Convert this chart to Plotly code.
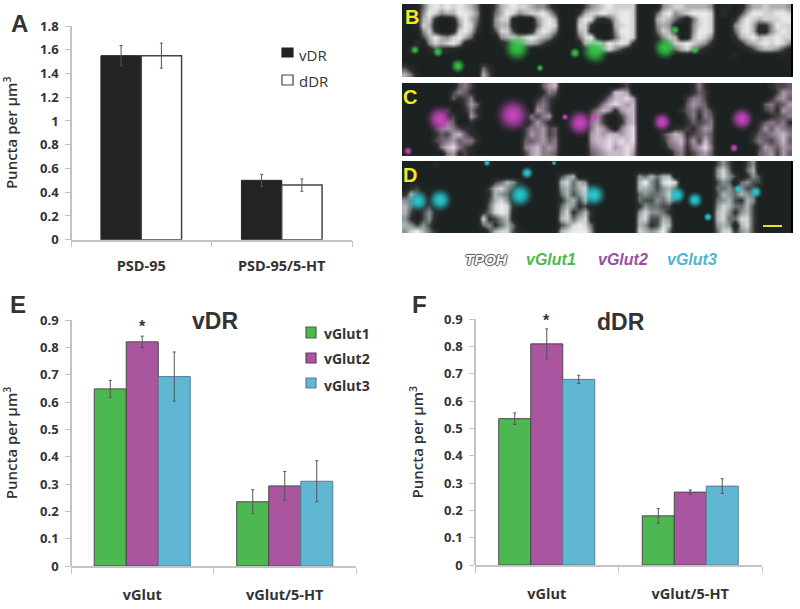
import plotly.graph_objects as go

W, H = 800, 609
FONT = "Open Sans"
INK = "#333333"

# Panel A
a_cats = ["PSD-95", "PSD-95/5-HT"]
a_vdr = [1.55, 0.50]
a_vdr_err = [0.085, 0.05]
a_ddr = [1.55, 0.46]
a_ddr_err = [0.105, 0.052]

# Panel E
e_cats = ["vGlut", "vGlut/5-HT"]
e_g1 = [0.648, 0.235]
e_g1_err = [0.031, 0.044]
e_g2 = [0.82, 0.293]
e_g2_err = [0.021, 0.053]
e_g3 = [0.693, 0.31]
e_g3_err = [0.09, 0.075]

# Panel F
f_g1 = [0.536, 0.18]
f_g1_err = [0.021, 0.027]
f_g2 = [0.81, 0.267]
f_g2_err = [0.055, 0.008]
f_g3 = [0.68, 0.289]
f_g3_err = [0.015, 0.027]

# Micrographs: intensity digits, five frames side by side
B1 = ["0014787878764","0015875668875","0016720016864","0017610005873","0005720017862","0003686578640","0020576786100","0210132110000","0000000000000","0000000000000","3100000000000","6410000000000"]
B2 = ["0036787765531","0046875677863","0057710005786","0056610004787","0037730016875","0005676787652","0001246665310","0000000000000","0000000000000","0000000000000","4200000000000","6300000000000"]
B3 = ["0000356787777","0002677877887","0006872136887","0007720006787","0006710005887","0004781004787","0001678687872","0000135675310","0000000000000","0000000000000","0000000000000","0000000000000"]
B4 = ["0000567766665","0004785678887","0006764204787","0005651005787","0004762005887","0002576006875","0001257787652","0000034675310","0000000000000","0000000000000","0000000000000","0000000000000"]
B5 = ["0110146676665","0200368877887","0002687677788","0005786225877","0004786115787","0002678677877","0000256787875","0000013566531","0001000000010","0000000000000","0000000000000","0000000000000"]
C1 = ["0000000004530","0000000035420","0000000042350","0000000000364","0000000300252","0000000030063","0000003540020","0000035653210","0000024367421","0000034564552","0000005785320","0000000562310"]
C2 = ["0000000000467","0000000000254","0000000002432","0000000004530","0000000006530","0000000053560","0000000036420","0000000355634","0000000365634","0000000445645","0000000567565","0000000367554"]
C3 = ["0000000000230","0000000027760","0000000257786","0000002578767","0000035762677","0000046300367","0000056300267","0000057630578","0000067677678","0000067787878","0000056786787","0000045677786"]
C4 = ["0000000002520","0000000002430","0000000035530","0000000046540","0000000245353","0000000035254","0000000024345","0000002232465","0000357623454","0000256736374","0000045625685","0000004523564"]
C5 = ["0000000002334","0000000000365","0000000002564","0000000045346","0000000034265","0000000002345","0000000245452","0000000364654","0000002445675","0000003543574","0000000365465","0000000456364"]
D1 = ["0000010000000","0000000000000","0000000000000","0000000000000","0230000000000","2632000000000","5412000000000","6402300000000","6303520000000","5203510000000","6535300000000","5786420000000"]
D2 = ["0000000000000","0000000000000","0000000000000","0034652000000","0367530000000","0265400000000","0367510000000","0478720000000","2478710000000","7235610000000","4524640000000","0367731000000"]
D3 = ["0000000000000","0000000000000","3560000000000","6746500000000","5646710000000","4635730000000","2563610000000","4652300000000","5724620000000","6746710000000","3578740000000","6788850000000"]
D4 = ["0000000000000","0000000000000","5464660000000","6853787000000","6653564000000","4544573000000","4335463000000","2544330000000","5755420000000","6733650000000","6523760000000","7656840000000"]
D5 = ["3530035000000","5740046000000","5753025300000","3540453300000","4453533000000","3654654000000","4563265000000","5764463000000","6752563000000","6744773000000","5650673000000","4772563000000"]

# Coloured puncta in the micrographs (reference position, diameter)
green_x = [415, 438, 458, 517, 540, 595, 575, 665, 695, 675]
green_y = [50, 52, 66, 48, 68, 51, 53, 48, 50, 30]
green_s = [10, 12, 16, 30, 8, 30, 12, 26, 10, 10]
magenta_x = [440, 513, 580, 565, 595, 662, 742, 734, 408]
magenta_y = [119, 115, 123, 117, 117, 122, 119, 148, 151]
magenta_s = [30, 38, 30, 8, 10, 22, 26, 10, 10]
cyan_x = [418, 440, 527, 520, 487, 554, 594, 677, 695, 708, 738, 756]
cyan_y = [201, 200, 173, 195, 163, 163, 195, 195, 200, 217, 189, 192]
cyan_s = [24, 26, 14, 28, 8, 6, 26, 20, 18, 10, 10, 14]


def px_x(v):
    return v / W


def px_y(v):
    return 1 - v / H


def to_z(frames):
    return [[int(c) for c in "".join(f[r] for f in frames)] for r in range(12)]


def gray_scale(mid, high):
    return [[0, "#1c2221"], [0.25, "#30302f"], [0.5, mid], [0.8, high], [1, "#ffffff"]]


fig = go.Figure()
LINE_DARK = "#4a4a4a"


def bar(x, y, err, color, name, ax, line_color, line_w, width, offset):
    fig.add_bar(
        x=x, y=y, name=name, xaxis="x" + ax, yaxis="y" + ax, width=width, offset=offset,
        marker=dict(color=color, line=dict(color=line_color, width=line_w)),
        error_y=dict(type="data", array=err, color="#555555", thickness=1, width=1.5),
        showlegend=False,
    )


WA, WE, WF = 0.287, 0.2246, 0.223
bar(a_cats, a_vdr, a_vdr_err, "#232323", "vDR", "", "#232323", 1, WA, -WA)
bar(a_cats, a_ddr, a_ddr_err, "#ffffff", "dDR", "", "#444444", 1.5, WA, 0)
GREEN, PURPLE, CYAN = "#4db850", "#a9559f", "#5fb7d3"
bar(e_cats, e_g1, e_g1_err, GREEN, "vGlut1", "2", LINE_DARK, 1, WE, -1.5 * WE)
bar(e_cats, e_g2, e_g2_err, PURPLE, "vGlut2", "2", LINE_DARK, 1, WE, -0.5 * WE)
bar(e_cats, e_g3, e_g3_err, CYAN, "vGlut3", "2", "#5a7f8f", 1, WE, 0.5 * WE)
bar(e_cats, f_g1, f_g1_err, GREEN, "vGlut1", "3", LINE_DARK, 1, WF, -1.5 * WF)
bar(e_cats, f_g2, f_g2_err, PURPLE, "vGlut2", "3", LINE_DARK, 1, WF, -0.5 * WF)
bar(e_cats, f_g3, f_g3_err, CYAN, "vGlut3", "3", "#5a7f8f", 1, WF, 0.5 * WF)

for frames, top, mid, high in [
    ((B1, B2, B3, B4, B5), 4, "#7d7f7e", "#d8d8d8"),
    ((C1, C2, C3, C4, C5), 83, "#786a78", "#d0c0d0"),
    ((D1, D2, D3, D4, D5), 161, "#788283", "#dcdede"),
]:
    fig.add_heatmap(
        z=to_z(frames), x0=405, dx=6, y0=top + 3, dy=6.05,
        zmin=0, zmax=9, zsmooth="best", colorscale=gray_scale(mid, high),
        showscale=False, hoverinfo="skip", xaxis="x4", yaxis="y4",
    )

for xs, ys, ss, rgb in [
    (green_x, green_y, green_s, "50,200,70"),
    (magenta_x, magenta_y, magenta_s, "205,70,195"),
    (cyan_x, cyan_y, cyan_s, "40,205,215"),
]:
    for k in (1, 0.8, 0.6):
        fig.add_scatter(
            x=xs, y=ys, mode="markers", xaxis="x4", yaxis="y4", showlegend=False,
            hoverinfo="skip",
            marker=dict(size=[s * k for s in ss], color=f"rgba({rgb},0)", line=dict(width=0),
                        gradient=dict(type="radial", color=f"rgba({rgb},1)")),
        )

fig.add_scatter(x=[763, 782], y=[226, 226], mode="lines", xaxis="x4", yaxis="y4",
                showlegend=False, hoverinfo="skip", line=dict(color="#f0e020", width=2))

AXIS_COL = "#c4c4c4"
TICKS = dict(family=FONT, size=13, color=INK, weight=700)
CAT_TICKS = dict(family=FONT, size=14.5, color=INK, weight=700)


def y_axis(top, bottom, rng, dtick, left, standoff):
    return dict(
        domain=[px_y(bottom), px_y(top)], range=rng, dtick=dtick, tick0=0,
        anchor="free", position=px_x(left), showgrid=False, zeroline=False,
        showline=True, linecolor=AXIS_COL, linewidth=1.5, ticks="outside",
        ticklen=5, tickcolor=AXIS_COL, tickfont=TICKS, automargin=False,
        ticklabelstandoff=4,
        title=dict(text="Puncta per µm<sup>3</sup>", standoff=standoff,
                   font=dict(family=FONT, size=15, color=INK, weight=600)),
    )


def x_axis(left, right, anchor, standoff):
    return dict(
        domain=[px_x(left), px_x(right)], type="category", range=[-0.5, 1.5],
        anchor=anchor, showgrid=False, zeroline=False, showline=True,
        linecolor=AXIS_COL, linewidth=1.5, ticks="outside", ticklen=6,
        tickcolor=AXIS_COL, tickson="boundaries", tickfont=CAT_TICKS,
        ticklabelstandoff=standoff, automargin=False,
    )


def note(x, y, text, size, color=INK, weight=700, family="Liberation Sans", style="normal",
         anchor="center", **kw):
    return dict(x=px_x(x), y=px_y(y), xref="paper", yref="paper", text=text, showarrow=False,
                xanchor=anchor, yanchor="middle",
                font=dict(family=family, size=size, color=color, weight=weight, style=style, **kw))


def swatch(x0, y0, x1, y1, color, line):
    return dict(type="rect", xref="paper", yref="paper",
                x0=px_x(x0), x1=px_x(x1), y0=px_y(y0), y1=px_y(y1),
                fillcolor=color, line=dict(color=line, width=1.2))


def edge(x, y0, y1):
    return dict(type="line", xref="paper", yref="paper", x0=px_x(x), x1=px_x(x),
                y0=px_y(y0), y1=px_y(y1), line=dict(color="#000000", width=2))


YEL = "#f3e72c"
annotations = [
    note(19, 24, "A", 24), note(18, 304, "E", 24), note(419, 304, "F", 24),
    note(412, 17, "B", 20, YEL), note(410, 97, "C", 20, YEL), note(410, 175, "D", 20, YEL),
    note(215, 321, "vDR", 23), note(621, 322, "dDR", 23),
    note(142, 326, "*", 16), note(546, 320, "*", 16),
    note(486, 259, "TPOH", 15, "#ffffff", 700, "Liberation Sans", "italic",
         shadow="1px 0 1px #555, -1px 0 1px #555, 0 1px 1px #555, 0 -1px 1px #555"),
    note(551, 259, "vGlut1", 16, "#4fb84f", 700, "Liberation Sans", "italic"),
    note(623, 259, "vGlut2", 16, "#9a4fa5", 700, "Liberation Sans", "italic"),
    note(692, 259, "vGlut3", 16, "#4fb4cf", 700, "Liberation Sans", "italic"),
    note(297, 55, "vDR", 15, INK, 400, FONT, anchor="left"),
    note(297, 81, "dDR", 15, INK, 400, FONT, anchor="left"),
    note(322, 333, "vGlut1", 14, INK, 700, FONT, anchor="left"),
    note(322, 359, "vGlut2", 14, INK, 700, FONT, anchor="left"),
    note(322, 385, "vGlut3", 14, INK, 700, FONT, anchor="left"),
]
shapes = [
    swatch(282, 48, 293, 57, "#232323", "#232323"),
    swatch(282, 75, 293, 85, "#ffffff", "#444444"),
    swatch(306, 327, 316, 338, GREEN, "#3d6b40"),
    swatch(306, 353, 316, 363, PURPLE, "#6a3a66"),
    swatch(306, 378, 316, 388, CYAN, "#5a7f8f"),
    edge(792, 4, 77), edge(792, 161, 233),
]

fig.update_layout(
    width=W, height=H, autosize=False, margin=dict(l=0, r=0, t=0, b=0, autoexpand=False),
    paper_bgcolor="white", plot_bgcolor="rgba(0,0,0,0)",
    barmode="overlay", showlegend=False,
    xaxis=x_axis(71, 352, "y", 12),
    yaxis=y_axis(26, 239.7, [0, 1.8], 0.2, 71, 18),
    xaxis2=x_axis(71, 356, "y2", 15),
    yaxis2=y_axis(320, 566, [0, 0.9], 0.1, 71, 18),
    xaxis3=x_axis(475, 762, "y3", 15),
    yaxis3=y_axis(319.3, 565, [0, 0.9], 0.1, 475, 16),
    xaxis4=dict(domain=[px_x(402), px_x(792)], range=[402, 792], visible=False, anchor="y4"),
    yaxis4=dict(domain=[px_y(233), px_y(4)], range=[233, 4], visible=False, anchor="x4"),
    annotations=annotations,
    shapes=shapes,
)

fig.write_html("out.html", post_script="document.body.style.margin='0';",
               config={"displayModeBar": False})
